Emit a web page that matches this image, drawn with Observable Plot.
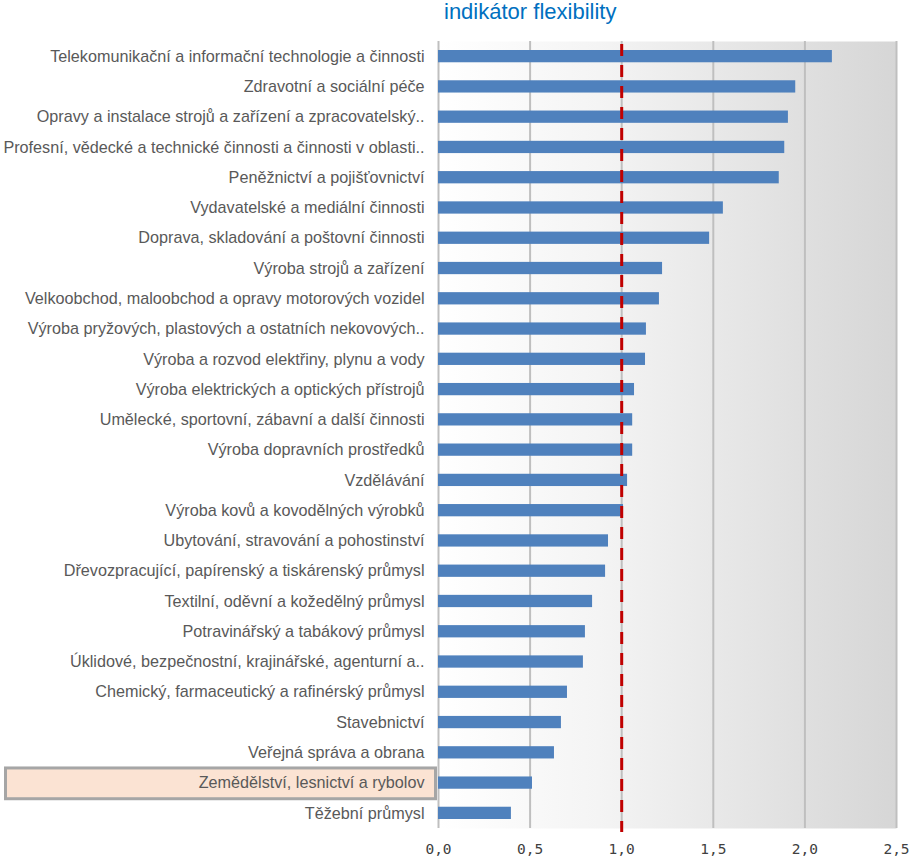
<!DOCTYPE html>
<html><head><meta charset="utf-8">
<script src="https://cdn.jsdelivr.net/npm/d3@7"></script>
<script src="https://cdn.jsdelivr.net/npm/@observablehq/plot@0.6"></script>
<style>
body{margin:0;background:#fff;}
#wrap{position:relative;width:911px;height:856px;}
#title{position:absolute;left:444px;top:0px;font:22px "Liberation Sans",Arial,sans-serif;color:#0070c0;white-space:nowrap;line-height:24px;}
svg [aria-label^="y-axis"] text{font-family:"Liberation Sans",Arial,sans-serif;font-size:16.2px;fill:#595959;}
svg [aria-label^="x-axis"] text{font-family:"DejaVu Sans Mono",monospace;font-size:14.5px;fill:#404040;}
</style></head>
<body><div id="wrap"><div id="title">indikátor flexibility</div></div>
<script>
const categories = [
  "Telekomunikační a informační technologie a činnosti",
  "Zdravotní a sociální péče",
  "Opravy a instalace strojů a zařízení a zpracovatelský..",
  "Profesní, vědecké a technické činnosti a činnosti v oblasti..",
  "Peněžnictví a pojišťovnictví",
  "Vydavatelské a mediální činnosti",
  "Doprava, skladování a poštovní činnosti",
  "Výroba strojů a zařízení",
  "Velkoobchod, maloobchod a opravy motorových vozidel",
  "Výroba pryžových, plastových a ostatních nekovových..",
  "Výroba a rozvod elektřiny, plynu a vody",
  "Výroba elektrických a optických přístrojů",
  "Umělecké, sportovní, zábavní a další činnosti",
  "Výroba dopravních prostředků",
  "Vzdělávání",
  "Výroba kovů a kovodělných výrobků",
  "Ubytování, stravování a pohostinství",
  "Dřevozpracující, papírenský a tiskárenský průmysl",
  "Textilní, oděvní a kožedělný průmysl",
  "Potravinářský a tabákový průmysl",
  "Úklidové, bezpečnostní, krajinářské, agenturní a..",
  "Chemický, farmaceutický a rafinérský průmysl",
  "Stavebnictví",
  "Veřejná správa a obrana",
  "Zemědělství, lesnictví a rybolov",
  "Těžební průmysl"
];
const values = [
  2.15, 1.95, 1.91, 1.89, 1.86, 1.555, 1.48, 1.223, 1.206, 1.135, 1.13, 1.07, 1.06,
  1.06, 1.032, 1.01, 0.928, 0.912, 0.841, 0.802, 0.791, 0.704, 0.671, 0.633, 0.513, 0.398
];
const gridTicks = [0, 0.5, 1, 1.5, 2, 2.5];
const tickLabels = ["0,0", "0,5", "1,0", "1,5", "2,0", "2,5"];
const reference = [1];
const highlight = "Zemědělství, lesnictví a rybolov";

const data = categories.map((c, i) => ({category: c, value: values[i]}));

const plot = Plot.plot({
  width: 911, height: 856,
  marginTop: 41, marginBottom: 28, marginLeft: 438, marginRight: 15,
  x: {domain: [0, 2.5], ticks: gridTicks, tickFormat: d => tickLabels[gridTicks.indexOf(d)], tickSize: 0, tickPadding: 15, label: null},
  y: {domain: categories, padding: 0, round: false, tickSize: 0, tickPadding: 14, label: null},
  marks: [
    Plot.frame({fill: "url(#bggrad)", stroke: "none"}),
    Plot.ruleX(gridTicks, {stroke: "#bfbfbf", strokeWidth: 2}),
    Plot.barX(data, {x: "value", y: "category", fill: "#4f81bd", insetTop: 9, insetBottom: 9}),
    Plot.ruleX(reference, {stroke: "#c00000", strokeWidth: 3, strokeDasharray: "12,9", strokeDashoffset: -3, insetBottom: -4})
  ]
});

const svgEl = plot.tagName.toLowerCase() === "svg" ? plot : plot.querySelector("svg");
const svg = d3.select(svgEl);
const defs = svg.insert("defs", ":first-child");
const grad = defs.append("linearGradient").attr("id", "bggrad")
  .attr("x1", 0).attr("x2", 1).attr("y1", 0).attr("y2", 0);
grad.append("stop").attr("offset", "0").attr("stop-color", "#ffffff");
grad.append("stop").attr("offset", "0.35").attr("stop-color", "#f4f4f4");
grad.append("stop").attr("offset", "1").attr("stop-color", "#d6d6d6");

const yS = plot.scale("y");
const yTop = yS.apply(highlight);
const bw = yS.bandwidth;
const yAxisG = svgEl.querySelector('[aria-label^="y-axis"]');
const rect = document.createElementNS("http://www.w3.org/2000/svg", "rect");
rect.setAttribute("x", 5.5);
rect.setAttribute("y", yTop + 0.5);
rect.setAttribute("width", 430);
rect.setAttribute("height", bw + 0.5);
rect.setAttribute("fill", "#fbe3d3");
rect.setAttribute("stroke", "#a6a6a6");
rect.setAttribute("stroke-width", 3);
svgEl.insertBefore(rect, yAxisG);

document.getElementById("wrap").appendChild(plot);
</script>
</body></html>
